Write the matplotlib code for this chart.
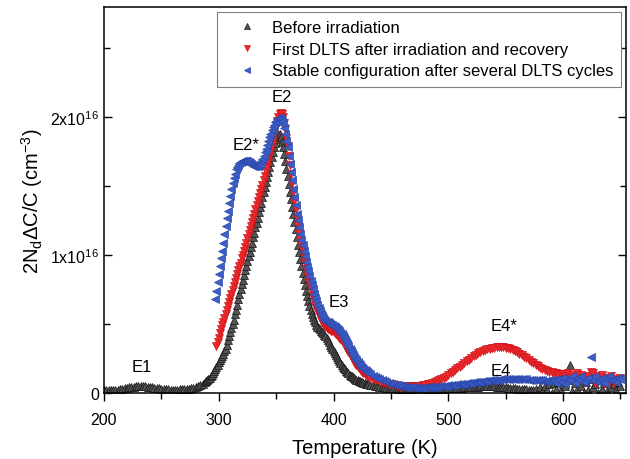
import numpy as np
import matplotlib.pyplot as plt
from matplotlib.ticker import MultipleLocator, FuncFormatter

plt.rcParams['font.family'] = ['Liberation Sans', 'DejaVu Sans']
plt.rcParams['mathtext.default'] = 'regular'

# temperature grids (K): 2 K steps on the flat parts, 1 K steps across the peaks
temp_before = np.concatenate([np.arange(200, 289, 2), np.arange(289, 431), np.arange(432, 651, 2)])
temp_first = np.concatenate([np.arange(298, 431), np.arange(432, 651, 2)])
temp_stable = np.concatenate([np.arange(297, 431), np.arange(432, 651, 2)])

# 2NdΔC/C in units of 1e16 cm^-3
before = [
    0.020, 0.020, 0.020, 0.020, 0.020, 0.020, 0.022, 0.025, 0.028, 0.032,
    0.036, 0.040, 0.043, 0.045, 0.047, 0.048, 0.048, 0.048, 0.047, 0.045,
    0.043, 0.040, 0.037, 0.034, 0.031, 0.029, 0.027, 0.025, 0.024, 0.023,
    0.023, 0.023, 0.023, 0.024, 0.025, 0.026, 0.028, 0.030, 0.033, 0.037,
    0.042, 0.048, 0.056, 0.066, 0.078,
    # 289 - 430 K
    0.085, 0.092, 0.100, 0.110, 0.120, 0.130, 0.145, 0.160, 0.175, 0.190,
    0.205, 0.220, 0.235, 0.250, 0.265, 0.280, 0.300, 0.320, 0.350, 0.380,
    0.410, 0.440, 0.470, 0.500, 0.530, 0.570, 0.600, 0.640, 0.680, 0.720,
    0.755, 0.790, 0.820, 0.855, 0.890, 0.920, 0.955, 0.990, 1.020, 1.060,
    1.090, 1.130, 1.160, 1.200, 1.235, 1.270, 1.310, 1.345, 1.380, 1.420,
    1.455, 1.490, 1.530, 1.565, 1.600, 1.640, 1.675, 1.710, 1.745, 1.780,
    1.810, 1.840, 1.865, 1.880, 1.875, 1.855, 1.820, 1.780, 1.730, 1.680,
    1.625, 1.570, 1.515, 1.460, 1.405, 1.350, 1.295, 1.240, 1.185, 1.130,
    1.075, 1.020, 0.970, 0.920, 0.870, 0.825, 0.780, 0.740, 0.700, 0.665,
    0.630, 0.600, 0.575, 0.550, 0.530, 0.510, 0.495, 0.480, 0.470, 0.460,
    0.450, 0.440, 0.430, 0.420, 0.410, 0.395, 0.380, 0.365, 0.350, 0.335,
    0.320, 0.305, 0.290, 0.275, 0.260, 0.245, 0.230, 0.215, 0.200, 0.190,
    0.180, 0.170, 0.160, 0.150, 0.140, 0.132, 0.125, 0.118, 0.112, 0.106,
    0.100, 0.095, 0.090, 0.086, 0.082, 0.078, 0.075, 0.072, 0.069, 0.066,
    0.063, 0.060,
    # 432 - 650 K
    0.057, 0.054, 0.051, 0.048, 0.045, 0.042, 0.040, 0.038, 0.036, 0.034,
    0.032, 0.031, 0.030, 0.029, 0.028, 0.027, 0.026, 0.025, 0.024, 0.024,
    0.023, 0.023, 0.023, 0.023, 0.023, 0.024, 0.024, 0.025, 0.026, 0.027,
    0.028, 0.029, 0.030, 0.031, 0.032, 0.033, 0.034, 0.035, 0.036, 0.037,
    0.038, 0.039, 0.040, 0.041, 0.042, 0.043, 0.044, 0.045, 0.046, 0.046,
    0.047, 0.047, 0.047, 0.047, 0.046, 0.045, 0.044, 0.043, 0.042, 0.040,
    0.038, 0.036, 0.034, 0.032, 0.030, 0.028, 0.026, 0.025, 0.024, 0.023,
    0.022, 0.022, 0.030, 0.015, 0.040, 0.010, 0.050, 0.020, 0.060, 0.000,
    0.070, 0.030, 0.080, 0.020, 0.060, 0.050, 0.090, 0.200, 0.010, 0.070,
    0.030, 0.140, 0.050, 0.000, 0.080, 0.020, 0.100, 0.040, 0.060, 0.000,
    0.090, 0.030, 0.070, 0.010, 0.100, 0.040, 0.060, 0.020, 0.080, 0.050,
]

first = [
    0.340, 0.370, 0.400, 0.430, 0.460, 0.490, 0.510, 0.540, 0.570, 0.600,
    0.630, 0.660, 0.690, 0.720, 0.745, 0.775, 0.800, 0.830, 0.860, 0.890,
    0.920, 0.945, 0.975, 1.000, 1.030, 1.060, 1.090, 1.120, 1.150, 1.180,
    1.210, 1.240, 1.270, 1.300, 1.330, 1.360, 1.390, 1.420, 1.450, 1.480,
    1.510, 1.540, 1.575, 1.610, 1.645, 1.680, 1.715, 1.750, 1.790, 1.830,
    1.870, 1.910, 1.945, 1.975, 2.000, 2.020, 2.030, 2.025, 2.000, 1.960,
    1.910, 1.850, 1.790, 1.720, 1.650, 1.585, 1.520, 1.455, 1.390, 1.330,
    1.270, 1.215, 1.160, 1.115, 1.070, 1.025, 0.980, 0.940, 0.900, 0.865,
    0.830, 0.795, 0.760, 0.730, 0.700, 0.670, 0.640, 0.615, 0.590, 0.570,
    0.550, 0.530, 0.515, 0.500, 0.490, 0.480, 0.470, 0.465, 0.460, 0.455,
    0.450, 0.445, 0.440, 0.433, 0.425, 0.418, 0.410, 0.400, 0.390, 0.378,
    0.365, 0.352, 0.340, 0.325, 0.310, 0.295, 0.280, 0.265, 0.250, 0.237,
    0.225, 0.212, 0.200, 0.190, 0.180, 0.170, 0.160, 0.152, 0.145, 0.138,
    0.130, 0.125, 0.120,
    # 432 - 650 K
    0.110, 0.100, 0.095, 0.090, 0.085, 0.080, 0.075, 0.070, 0.066, 0.062,
    0.058, 0.055, 0.052, 0.050, 0.048, 0.047, 0.046, 0.046, 0.046, 0.047,
    0.048, 0.050, 0.052, 0.055, 0.058, 0.062, 0.066, 0.071, 0.077, 0.083,
    0.090, 0.098, 0.107, 0.117, 0.128, 0.140, 0.152, 0.165, 0.178, 0.190,
    0.203, 0.216, 0.229, 0.241, 0.253, 0.264, 0.275, 0.285, 0.294, 0.302,
    0.309, 0.315, 0.320, 0.324, 0.327, 0.329, 0.330, 0.330, 0.329, 0.327,
    0.323, 0.318, 0.311, 0.303, 0.294, 0.284, 0.273, 0.262, 0.250, 0.238,
    0.226, 0.214, 0.203, 0.192, 0.182, 0.173, 0.165, 0.158, 0.152, 0.147,
    0.143, 0.140, 0.138, 0.136, 0.135, 0.120, 0.140, 0.110, 0.130, 0.100,
    0.140, 0.090, 0.130, 0.110, 0.080, 0.120, 0.150, 0.140, 0.070, 0.120,
    0.090, 0.130, 0.060, 0.110, 0.080, 0.120, 0.070, 0.100, 0.090, 0.110,
]

stable = [
    0.680, 0.740, 0.800, 0.860, 0.920, 0.980, 1.030, 1.090, 1.150, 1.210,
    1.270, 1.320, 1.380, 1.430, 1.480, 1.520, 1.560, 1.590, 1.620, 1.640,
    1.655, 1.665, 1.672, 1.678, 1.682, 1.685, 1.685, 1.683, 1.678, 1.672,
    1.665, 1.658, 1.652, 1.647, 1.644, 1.642, 1.642, 1.645, 1.652, 1.663,
    1.678, 1.697, 1.720, 1.745, 1.772, 1.800, 1.828, 1.855, 1.880, 1.903,
    1.925, 1.945, 1.962, 1.975, 1.985, 1.990, 1.990, 1.985, 1.970, 1.950,
    1.920, 1.880, 1.830, 1.780, 1.720, 1.660, 1.600, 1.540, 1.480, 1.420,
    1.360, 1.300, 1.250, 1.200, 1.155, 1.110, 1.070, 1.030, 0.990, 0.950,
    0.915, 0.880, 0.845, 0.810, 0.780, 0.750, 0.720, 0.690, 0.665, 0.640,
    0.615, 0.590, 0.572, 0.555, 0.542, 0.530, 0.522, 0.515, 0.510, 0.505,
    0.500, 0.495, 0.490, 0.485, 0.478, 0.470, 0.462, 0.455, 0.445, 0.435,
    0.423, 0.410, 0.398, 0.385, 0.370, 0.355, 0.338, 0.320, 0.305, 0.290,
    0.275, 0.260, 0.248, 0.235, 0.222, 0.210, 0.200, 0.190, 0.180, 0.170,
    0.162, 0.155, 0.147, 0.140,
    # 432 - 650 K
    0.135, 0.125, 0.115, 0.106, 0.098, 0.090, 0.083, 0.077, 0.071, 0.066,
    0.061, 0.057, 0.053, 0.050, 0.047, 0.044, 0.042, 0.040, 0.039, 0.038,
    0.037, 0.037, 0.037, 0.038, 0.039, 0.040, 0.041, 0.042, 0.043, 0.045,
    0.046, 0.048, 0.049, 0.051, 0.053, 0.054, 0.056, 0.058, 0.060, 0.062,
    0.064, 0.066, 0.068, 0.070, 0.072, 0.075, 0.077, 0.079, 0.081, 0.083,
    0.085, 0.087, 0.089, 0.091, 0.093, 0.095, 0.096, 0.098, 0.099, 0.100,
    0.101, 0.101, 0.102, 0.102, 0.102, 0.101, 0.100, 0.099, 0.097, 0.095,
    0.094, 0.092, 0.091, 0.090, 0.089, 0.089, 0.088, 0.088, 0.089, 0.090,
    0.092, 0.070, 0.100, 0.080, 0.110, 0.060, 0.100, 0.090, 0.120, 0.070,
    0.110, 0.090, 0.120, 0.080, 0.100, 0.110, 0.260, 0.090, 0.120, 0.080,
    0.100, 0.110, 0.070, 0.100, 0.120, 0.090, 0.100, 0.080, 0.110, 0.100,
]

# peak labels: (name, temperature, height in 1e16)
peak_names = ['E1', 'E2*', 'E2', 'E3', 'E4*', 'E4']
peak_temps = [233, 324, 355, 405, 549, 546]
peak_heights = [0.19, 1.80, 2.15, 0.66, 0.49, 0.16]

fig = plt.figure(figsize=(6.3, 4.6), dpi=100)
ax = fig.add_axes([0.165, 0.144, 0.829, 0.839])

ax.plot(temp_before, np.array(before) * 1e16, ls='none', marker='^', ms=6,
        mfc='#555555', mec='#151515', mew=0.5, label='Before irradiation')
ax.plot(temp_first, np.array(first) * 1e16, ls='none', marker='v', ms=6,
        mfc='#ec2b2f', mec='#d0141a', mew=0.5,
        label='First DLTS after irradiation and recovery')
ax.plot(temp_stable, np.array(stable) * 1e16, ls='none', marker='<', ms=6,
        mfc='#3d5ec4', mec='#2a48ad', mew=0.5,
        label='Stable configuration after several DLTS cycles')

for name, t, h in zip(peak_names, peak_temps, peak_heights):
    ax.text(t, h * 1e16, name, ha='center', va='center', fontsize=12)

ax.set_xlim(200, 655)
ax.set_ylim(0, 2.8e16)

ax.xaxis.set_major_locator(MultipleLocator(100))
ax.xaxis.set_minor_locator(MultipleLocator(50))
ax.yaxis.set_major_locator(MultipleLocator(1e16))
ax.yaxis.set_minor_locator(MultipleLocator(0.5e16))


def sci_label(v, pos):
    if v == 0:
        return '0'
    return '%dx10$^{16}$' % round(v / 1e16)


ax.yaxis.set_major_formatter(FuncFormatter(sci_label))

ax.tick_params(axis='x', which='both', direction='out', top=False, labelsize=11.5, pad=8)
ax.tick_params(axis='x', which='major', length=6, width=1)
ax.tick_params(axis='x', which='minor', length=4, width=1)
ax.tick_params(axis='y', which='both', direction='in', left=True, right=True, labelsize=11.5)
ax.tick_params(axis='y', which='major', length=6, width=1)
ax.tick_params(axis='y', which='minor', length=4, width=1)
for s in ax.spines.values():
    s.set_linewidth(1.1)

ax.set_xlabel('Temperature (K)', fontsize=14.5, labelpad=8)
ax.set_ylabel('2N$_d$ΔC/C (cm$^{-3}$)', fontsize=14.5)

leg = ax.legend(loc='upper right', fontsize=12, numpoints=1, fancybox=False,
                edgecolor='#808080', framealpha=1, borderaxespad=0.3,
                borderpad=0.5, labelspacing=0.4, handlelength=2.7,
                handletextpad=0.1, markerscale=0.8)
leg.get_frame().set_linewidth(0.8)

plt.savefig('out.png', dpi=100)
